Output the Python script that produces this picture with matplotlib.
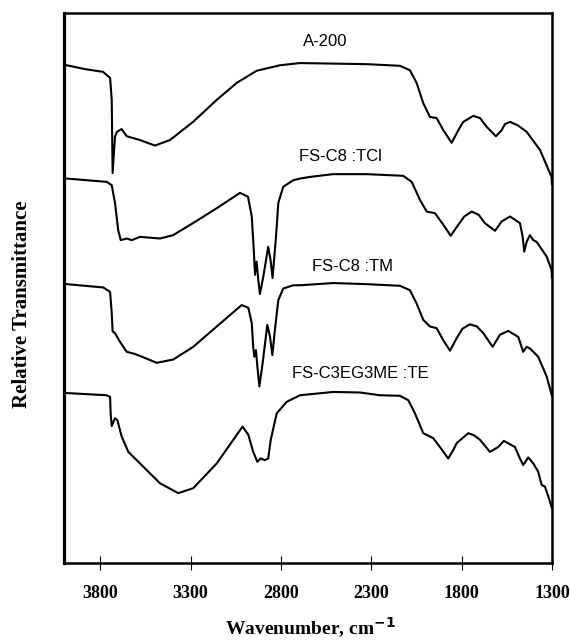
import numpy as np
import matplotlib
matplotlib.use("Agg")
import matplotlib.pyplot as plt

# wavenumber (cm-1) / relative transmittance (arbitrary, offset)
wn_a200 = [3985, 3884, 3784, 3745, 3736, 3731, 3718, 3707, 3681, 3653, 3580, 3497, 3414,
           3286, 3155, 3044, 2934, 2805, 2694, 2325, 2141, 2086, 2049, 2012, 1975, 1938,
           1901, 1855, 1818, 1791, 1735, 1698, 1661, 1610, 1578, 1560, 1532, 1490, 1440,
           1366, 1302, 1300]
t_a200 = [90.5, 89.8, 89.3, 88.2, 84.2, 70.9, 77.5, 78.4, 78.9, 77.6, 76.9, 75.9, 76.9,
          80.2, 84.2, 87.3, 89.5, 90.5, 90.9, 90.7, 90.4, 89.6, 87.3, 83.6, 81.1, 80.9,
          78.7, 76.4, 78.7, 80.2, 81.3, 80.9, 79.3, 77.6, 78.7, 79.8, 80.2, 79.6, 78.4,
          75.1, 70.2, 68.9]

wn_tcl = [3985, 3764, 3736, 3718, 3700, 3686, 3653, 3625, 3580, 3469, 3397, 3286, 3155,
          3026, 2982, 2961, 2949, 2943, 2934, 2925, 2916, 2897, 2870, 2857, 2846, 2827,
          2814, 2787, 2731, 2694, 2639, 2512, 2325, 2123, 2076, 2030, 1993, 1947, 1901,
          1860, 1818, 1785, 1744, 1705, 1671, 1615, 1578, 1532, 1477, 1462, 1453, 1440,
          1422, 1403, 1385, 1366, 1329, 1302, 1300]
t_tcl = [69.9, 69.3, 68.7, 65.5, 60.5, 58.7, 59.0, 58.7, 59.3, 59.0, 59.6, 61.8, 64.5,
         67.3, 66.6, 63.0, 56.4, 52.4, 54.8, 51.5, 48.9, 52.1, 57.5, 55.1, 51.8, 59.3,
         65.5, 68.4, 69.6, 69.9, 70.2, 70.7, 70.7, 70.4, 69.3, 66.0, 63.9, 63.6, 61.5,
         59.5, 61.5, 63.0, 63.9, 63.3, 61.8, 60.4, 62.1, 63.0, 61.8, 59.3, 56.6, 58.4,
         59.6, 58.7, 58.4, 57.5, 55.7, 53.3, 51.8]

wn_tm = [3985, 3783, 3745, 3736, 3731, 3718, 3690, 3653, 3607, 3561, 3487, 3395, 3285,
         3155, 3017, 2980, 2961, 2953, 2947, 2938, 2930, 2919, 2901, 2875, 2860, 2847,
         2833, 2814, 2787, 2731, 2694, 2510, 2325, 2141, 2086, 2049, 2012, 1975, 1938,
         1901, 1864, 1827, 1795, 1754, 1715, 1680, 1628, 1588, 1542, 1486, 1468, 1459,
         1440, 1422, 1403, 1376, 1329, 1300]
t_tm = [50.7, 50.1, 49.3, 45.5, 42.1, 41.8, 40.2, 38.4, 38.0, 37.4, 36.4, 37.0, 39.3,
        43.0, 46.9, 46.4, 43.6, 39.3, 37.5, 38.7, 35.7, 32.1, 36.3, 43.3, 41.1, 37.8,
        42.4, 47.8, 49.9, 50.5, 50.5, 50.9, 50.7, 50.4, 49.6, 47.2, 44.2, 43.0, 42.7,
        40.5, 38.6, 40.9, 42.6, 43.4, 43.0, 41.8, 39.3, 41.5, 42.2, 41.1, 39.3, 38.4,
        39.3, 39.0, 38.4, 37.5, 33.9, 30.4]

wn_te = [3985, 3764, 3745, 3742, 3736, 3718, 3705, 3681, 3644, 3561, 3469, 3368, 3285,
         3155, 3012, 2980, 2953, 2930, 2912, 2888, 2870, 2856, 2823, 2768, 2694, 2510,
         2362, 2252, 2141, 2095, 2058, 2012, 1957, 1920, 1874, 1845, 1827, 1763, 1730,
         1698, 1643, 1597, 1566, 1505, 1477, 1459, 1431, 1403, 1376, 1357, 1339, 1320, 1300]
t_te = [30.9, 30.5, 30.2, 27.2, 24.9, 26.3, 26.0, 23.0, 20.2, 17.5, 14.5, 12.7, 13.6,
        18.1, 24.8, 23.3, 20.2, 18.4, 19.0, 18.7, 19.0, 22.4, 27.2, 29.3, 30.5, 31.1,
        31.0, 30.5, 30.4, 29.6, 27.2, 23.6, 22.7, 21.1, 19.0, 20.6, 21.8, 23.6, 23.2,
        22.4, 20.2, 21.1, 22.2, 21.1, 19.0, 17.8, 19.2, 18.1, 16.6, 14.2, 13.9, 12.1, 10.0]

names = ["A-200", "FS-C8 :TCl", "FS-C8 :TM", "FS-C3EG3ME :TE"]
label_wn = [2556, 2473, 2401, 2362]
label_t = [94.9, 74.0, 54.0, 34.5]
xticks = [3800, 3300, 2800, 2300, 1800, 1300]

fig = plt.figure(figsize=(5.7, 6.41), dpi=100)
ax = fig.add_axes([0.1123, 0.1217, 0.856, 0.858])

for wn, t in [(wn_a200, t_a200), (wn_tcl, t_tcl), (wn_tm, t_tm), (wn_te, t_te)]:
    ax.plot(wn, t, color="black", lw=1.5, solid_joinstyle="round")

for name, x, y in zip(names, label_wn, label_t):
    ax.text(x, y, name, ha="center", va="center", fontsize=12,
            family="Liberation Sans")

ax.set_xlim(4000, 1300)
ax.set_ylim(0, 100)
ax.set_xticks(xticks)
ax.set_yticks([])
ax.tick_params(axis="x", direction="inout", length=10, width=0.8, pad=11)
for lab in ax.get_xticklabels():
    lab.set_family("Liberation Serif")
    lab.set_fontweight("bold")
    lab.set_fontsize(13)
for s in ax.spines.values():
    s.set_linewidth(1.8)
ax.spines["left"].set_linewidth(2.3)

fig.text(0.544, 0.021, "Wavenumber, cm$^{\\mathbf{-1}}$", ha="center", va="center",
         fontsize=14, fontweight="bold", family="Liberation Serif")
fig.text(0.038, 0.525, "Relative Transmittance", rotation=90, ha="center", va="center",
         fontsize=15, fontweight="bold", family="Liberation Serif")

plt.savefig("out.png", dpi=100)
